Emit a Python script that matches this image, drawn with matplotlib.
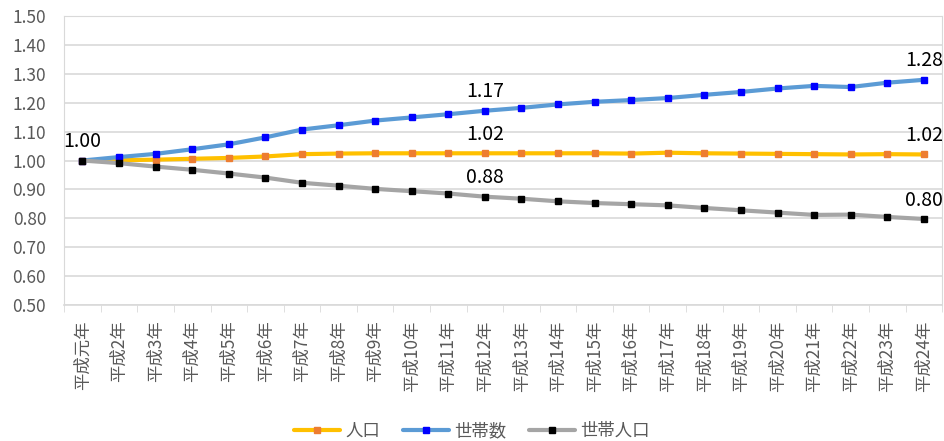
import numpy as np
import matplotlib
matplotlib.use('Agg')
from matplotlib import pyplot as plt

plt.rcParams['font.family'] = ['Noto Sans CJK JP', 'DejaVu Sans']

# 平成元年 = 1.00 とした指数
years = ['平成元年'] + ['平成{}年'.format(i) for i in range(2, 25)]

population = [1.000, 1.001, 1.003, 1.006, 1.009, 1.014, 1.022, 1.024, 1.025, 1.025,
              1.025, 1.025, 1.025, 1.025, 1.025, 1.024, 1.027, 1.025, 1.024, 1.023,
              1.022, 1.021, 1.022, 1.021]
households = [1.000, 1.012, 1.023, 1.039, 1.056, 1.080, 1.107, 1.122, 1.138, 1.149,
              1.160, 1.172, 1.182, 1.194, 1.203, 1.209, 1.216, 1.227, 1.237, 1.249,
              1.258, 1.254, 1.269, 1.279]
hh_population = [1.000, 0.991, 0.979, 0.968, 0.955, 0.941, 0.923, 0.913, 0.902, 0.894,
                 0.886, 0.875, 0.868, 0.859, 0.853, 0.849, 0.845, 0.836, 0.828, 0.820,
                 0.812, 0.813, 0.805, 0.798]

series = [
	('人口', population, '#FFC000', '#ED7D31'),
	('世帯数', households, '#5B9BD5', '#0000FF'),
	('世帯人口', hh_population, '#A5A5A5', '#000000'),
]

# どの点にラベルを付けるか
labelled = {
	'人口': [11, 23],
	'世帯数': [0, 11, 23],
	'世帯人口': [11, 23],
}

fig = plt.figure(figsize=(9.44, 4.41), dpi=100)
ax = fig.add_axes([0.068, 0.308, 0.930, 0.656])

x = np.arange(len(years))

for name, vals, lc, mc in series:
	ax.plot(x, vals, color=lc, lw=3, marker='s', ms=5,
		markerfacecolor=mc, markeredgecolor=mc, label=name,
		solid_capstyle='round')

for name, vals, lc, mc in series:
	for i in labelled[name]:
		ax.annotate('{:.2f}'.format(vals[i]), (x[i], vals[i]),
			xytext=(0, 6), textcoords='offset points',
			ha='center', va='bottom', fontsize=14, color='#000000')

ax.set_xlim(-0.5, len(years) - 0.5)
ax.set_ylim(0.5, 1.5)
ax.set_yticks(np.arange(0.5, 1.501, 0.1))
ax.set_yticklabels(['{:.2f}'.format(v) for v in np.arange(0.5, 1.501, 0.1)])
ax.yaxis.grid(True, color='#D9D9D9', lw=1.2)
ax.set_axisbelow(True)

ax.set_xticks(x)
ax.set_xticklabels(years, rotation=90, fontsize=12.5, color='#595959')
ax.set_xticks(np.arange(-0.5, len(years), 1), minor=True)
ax.tick_params(axis='x', which='major', length=0, pad=11)
ax.tick_params(axis='x', which='minor', length=5, color='#D9D9D9')
ax.tick_params(axis='y', length=0, labelsize=12.5, labelcolor='#595959', pad=13)

for side in ['left', 'right', 'top']:
	ax.spines[side].set_color('#D9D9D9')
ax.spines['bottom'].set_color('#D9D9D9')
ax.spines['bottom'].set_linewidth(1.2)

fig.legend(loc='center', bbox_to_anchor=(0.5, 1 - 431 / 441), ncol=3,
	frameon=False, fontsize=12.5, handlelength=2.65, handletextpad=0.3,
	columnspacing=1.3, labelcolor='#595959')

fig.savefig('out.png', dpi=100)
